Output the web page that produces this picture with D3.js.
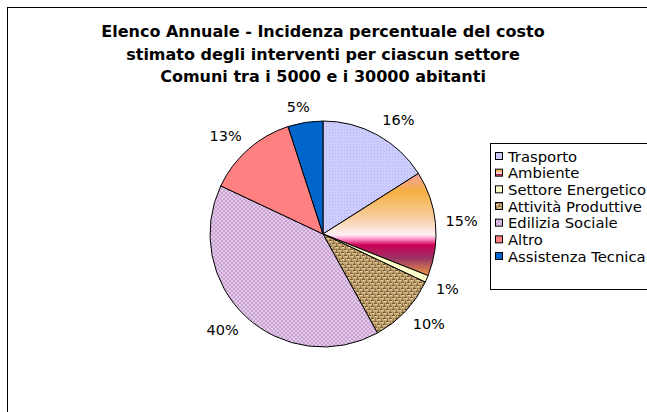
<!DOCTYPE html>
<html>
<head>
<meta charset="utf-8">
<script src="https://cdn.jsdelivr.net/npm/d3@7"></script>
<style>
  body { margin: 0; background: #fff; }
  svg { display: block; font-family: "DejaVu Sans", Verdana, sans-serif; }
</style>
</head>
<body>
<div id="chart"></div>
<script>
// Data
const categories = ["Trasporto", "Ambiente", "Settore Energetico", "Attività Produttive",
  "Edilizia Sociale", "Altro", "Assistenza Tecnica"];
const values = [16, 15, 1, 10, 40, 13, 5];
const titleLines = ["Elenco Annuale - Incidenza percentuale del costo",
  "stimato degli interventi per ciascun settore",
  "Comuni tra i 5000 e i 30000 abitanti"];
const fills = ["url(#pTrasporto)", "url(#gAmbiente)", "#ffffcc", "url(#pBurlap)",
  "url(#pEdilizia)", "#ff8080", "#0066cc"];

const dimensions = { width: 647, height: 412 };
const cx = 323, cy = 234, radius = 113;

const svg = d3.select("#chart").append("svg")
  .attr("width", dimensions.width)
  .attr("height", dimensions.height);

const defs = svg.append("defs");

// fine dotted lavender
const pT = defs.append("pattern").attr("id", "pTrasporto")
  .attr("patternUnits", "userSpaceOnUse").attr("width", 3).attr("height", 3);
pT.append("rect").attr("width", 3).attr("height", 3).attr("fill", "#ccccff");
pT.append("rect").attr("width", 1).attr("height", 1).attr("fill", "#b4b4ee");

// checked pink-lilac
const pE = defs.append("pattern").attr("id", "pEdilizia")
  .attr("patternUnits", "userSpaceOnUse").attr("width", 4).attr("height", 4);
pE.append("rect").attr("width", 4).attr("height", 4).attr("fill", "#e4cce8");
pE.append("rect").attr("width", 2).attr("height", 2).attr("fill", "#c8a2d2");
pE.append("rect").attr("x", 2).attr("y", 2).attr("width", 2).attr("height", 2).attr("fill", "#c8a2d2");

// burlap weave
const pB = defs.append("pattern").attr("id", "pBurlap")
  .attr("patternUnits", "userSpaceOnUse").attr("width", 6).attr("height", 6);
pB.append("rect").attr("width", 6).attr("height", 6).attr("fill", "#c4a674");
pB.append("rect").attr("x", 0).attr("y", 0).attr("width", 3).attr("height", 1).attr("fill", "#7a5a30");
pB.append("rect").attr("x", 3).attr("y", 3).attr("width", 3).attr("height", 1).attr("fill", "#7a5a30");
pB.append("rect").attr("x", 4).attr("y", 0).attr("width", 1).attr("height", 3).attr("fill", "#96764a");
pB.append("rect").attr("x", 1).attr("y", 3).attr("width", 1).attr("height", 3).attr("fill", "#96764a");
pB.append("rect").attr("x", 1).attr("y", 1).attr("width", 2).attr("height", 1).attr("fill", "#e6d2a8");
pB.append("rect").attr("x", 4).attr("y", 4).attr("width", 2).attr("height", 1).attr("fill", "#e6d2a8");

// banded sunset gradient
const gA = defs.append("linearGradient").attr("id", "gAmbiente")
  .attr("x1", 0).attr("x2", 0).attr("y1", 0).attr("y2", 1);
[[0, "#f4a0a0"], [0.18, "#f5b040"], [0.45, "#f8d0a8"], [0.6, "#fff0f4"],
 [0.64, "#ff99cc"], [0.7, "#cc0055"], [0.83, "#993366"], [1, "#ee9944"]]
  .forEach(([o, c]) => gA.append("stop").attr("offset", o).attr("stop-color", c));

// Outer frame
svg.append("rect")
  .attr("x", 7.5).attr("y", 7.5)
  .attr("width", 700).attr("height", 500)
  .attr("fill", "none").attr("stroke", "#000").attr("stroke-width", 1);

// Title
svg.append("g").selectAll("text")
  .data(titleLines)
  .join("text")
  .attr("x", 323)
  .attr("y", (d, i) => 37 + i * 22.5)
  .attr("text-anchor", "middle")
  .attr("font-weight", "bold")
  .attr("font-size", 16)
  .attr("fill", "#000")
  .text(d => d);

// Pie
const pie = d3.pie().sort(null).value(d => d)(values);
const arc = d3.arc().innerRadius(0).outerRadius(radius);

const pieGroup = svg.append("g").attr("transform", `translate(${cx}, ${cy})`);

pieGroup.selectAll("path")
  .data(pie)
  .join("path")
  .attr("d", arc)
  .attr("fill", (d, i) => fills[i])
  .attr("stroke", "#000")
  .attr("stroke-width", 1)
  .attr("stroke-linejoin", "round");

// Labels
const clamp = v => Math.max(-1, Math.min(1, v));
pieGroup.selectAll("text")
  .data(pie)
  .join("text")
  .attr("font-size", 14.5)
  .attr("fill", "#000")
  .attr("text-anchor", "middle")
  .attr("dominant-baseline", "central")
  .text(d => d.value + "%")
  .each(function (d) {
    const a = (d.startAngle + d.endAngle) / 2;
    const w = this.getComputedTextLength();
    const h = 12;
    const r = radius + 10;
    const x = r * Math.sin(a) + (w / 2) * clamp(Math.sin(a) * 3);
    const y = -r * Math.cos(a) - (h / 2) * clamp(Math.cos(a) * 3);
    d3.select(this).attr("x", x).attr("y", y);
  });

// Legend
const legend = svg.append("g");
legend.append("rect")
  .attr("x", 490.5).attr("y", 143.5)
  .attr("width", 300).attr("height", 146)
  .attr("fill", "#fff").attr("stroke", "#000").attr("stroke-width", 1);

const rowY = d3.scaleLinear().domain([0, categories.length - 1]).range([156, 256]);

const rows = legend.selectAll("g.row")
  .data(categories)
  .join("g")
  .attr("class", "row")
  .attr("transform", (d, i) => `translate(0, ${rowY(i)})`);

rows.append("rect")
  .attr("x", 495.5).attr("y", -3.5)
  .attr("width", 7).attr("height", 7)
  .attr("fill", (d, i) => fills[i])
  .attr("stroke", "#000").attr("stroke-width", 1);

rows.append("text")
  .attr("x", 508)
  .attr("y", 0)
  .attr("dominant-baseline", "central")
  .attr("font-size", 14.8)
  .attr("fill", "#000")
  .text(d => d);
</script>
</body>
</html>
